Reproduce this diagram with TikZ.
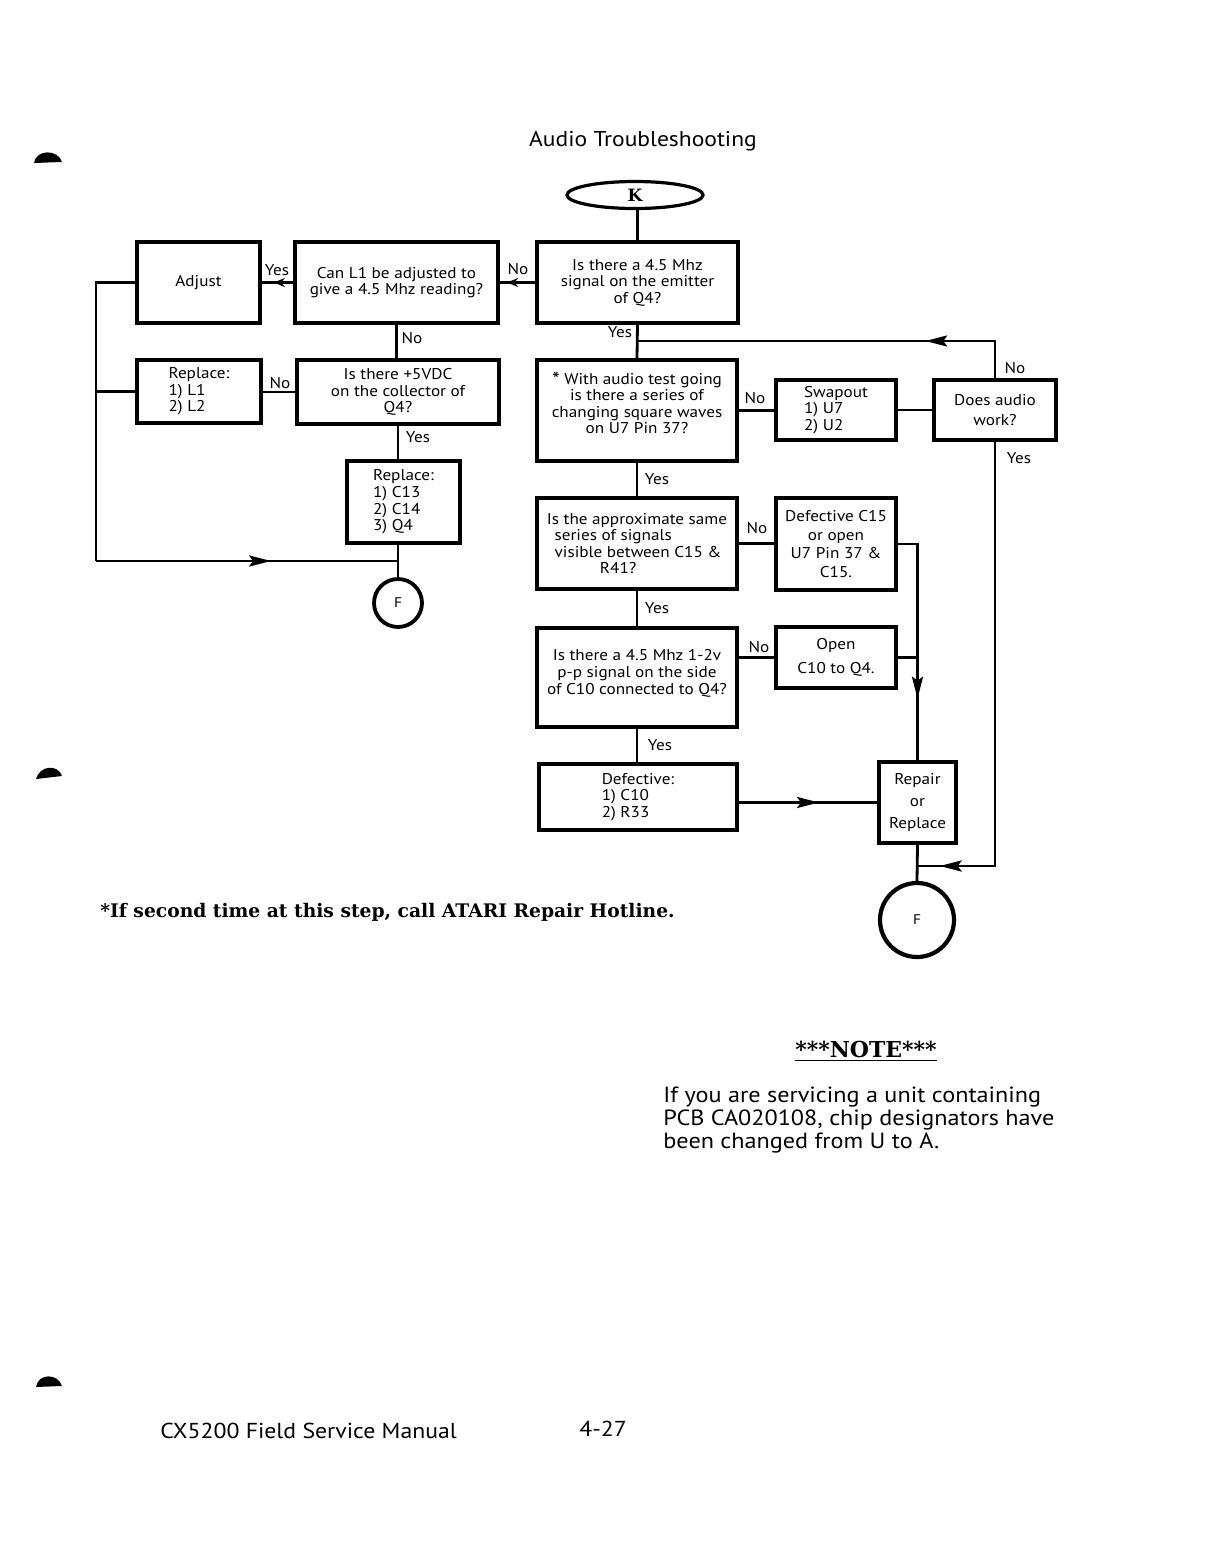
\documentclass[tikz,border=0pt]{standalone}
\usepackage{fontspec}
\setmainfont[FakeStretch=1.1]{PT Sans}
\newfontfamily\serifbold{DejaVu Serif}
\usetikzlibrary{arrows.meta,shapes.geometric,decorations.markings}
\newcommand\bxfont{\fontsize{7.8}{8.3}\selectfont}
\begin{document}
\begin{tikzpicture}[x=0.5pt,y=-0.5pt,
  box/.style={draw,line width=2.2pt,inner sep=1pt,align=center,font=\bxfont},
  lbl/.style={inner sep=0pt,font=\bxfont},
  conn/.style={line width=1.4pt},
  arrat/.style={postaction={decorate,decoration={markings,mark=at position #1 with {\arrow{Stealth[length=5.5pt,width=4.5pt]}}}}},
  barrat/.style={postaction={decorate,decoration={markings,mark=at position #1 with {\arrow{Stealth[length=11pt,width=5.5pt,inset=2pt]}}}}},
  term/.style={draw,circle,line width=1.9pt,inner sep=0pt,font=\fontsize{7}{8}\selectfont}
]
\useasboundingbox (0,0) rectangle (1221,1559);
\fill[white] (0,0) rectangle (1221,1559);

% margin marks
\fill (34,163) .. controls (36,149) and (58,149) .. (62,162) -- cycle;
\fill (36,779) .. controls (40,765) and (58,764) .. (62,776) -- cycle;
\fill (36,1387) .. controls (38,1373) and (58,1373) .. (62,1386) -- cycle;

% title
\node[anchor=base,font=\fontsize{10.7}{12}\selectfont,inner sep=0] (title) at (643,146) {Audio Troubleshooting};

% nodes
\node[draw,ellipse,line width=1.6pt,minimum width=68pt,minimum height=13.5pt,inner sep=0pt,font=\serifbold\bfseries\fontsize{8.5}{10}\selectfont] (K) at (635,195) {K};
\node[box,minimum width=100.5pt,minimum height=40.5pt] (E1) at (637.5,282.5) {Is there a 4.5 Mhz\\signal on the emitter\\of Q4?};
\node[box,minimum width=101.5pt,minimum height=40.5pt] (CanL) at (396.5,282.5) {Can L1 be adjusted to\\give a 4.5 Mhz reading?};
\node[box,minimum width=61.5pt,minimum height=40.5pt] (Adj) at (198.5,282.5) {Adjust};
\node[box,align=left,minimum width=62pt,minimum height=31.5pt] (RepL) at (199,391.5) {Replace:\\1) L1\\2) L2};
\node[box,minimum width=101pt,minimum height=32pt] (V5) at (398,392) {Is there +5VDC\\on the collector of\\Q4?};
\node[box,align=left,minimum width=56.5pt,minimum height=41pt] (RepC) at (403.5,502) {Replace:\\1) C13\\2) C14\\3) Q4};
\node[term,minimum size=24pt] (Fl) at (398,603) {F};

\node[box,minimum width=100pt,minimum height=50.5pt] (Aud) at (637,410.5) {\smash{\raisebox{-0.25ex}{\fontsize{10}{8}\selectfont *}} With audio test going\\is there a series of\\changing square waves\\on U7 Pin 37?\\[-1.3pt]};
\node[box,align=left,minimum width=60pt,minimum height=30pt] (Swap) at (836,410) {Swapout\\1) U7\\2) U2};
\node[box,minimum width=61pt,minimum height=30pt] (Does) at (995,410) {Does audio\\[2pt]work?};
\node[box,align=left,minimum width=100pt,minimum height=45.5pt] (Appr) at (637,543.5) {Is the approximate same\\\hspace*{0.5em}series of signals\\\hspace*{0.5em}visible between C15 \&\\\hspace*{3.4em}R41?};
\node[box,minimum width=60pt,minimum height=46pt] (DefA) at (836,544) {Defective C15\\[1pt]or open\\[1pt]U7 Pin 37 \&\\[1pt]C15.};
\node[box,minimum width=100pt,minimum height=49.5pt] (Sig) at (637,677.5) {Is there a 4.5 Mhz 1-2v\\p-p signal on the side\\of C10 connected to Q4?\\[-2.8pt]};
\node[box,minimum width=60pt,minimum height=30.5pt] (Open) at (836,657.5) {Open\\[4pt]C10 to Q4.};
\node[box,align=left,minimum width=99pt,minimum height=33pt] (DefB) at (638,797) {Defective:\\1) C10\\2) R33};
\node[box,minimum width=38.5pt,minimum height=40.5pt] (Rep) at (917.5,802.5) {Repair\\[2.5pt]or\\[2.5pt]Replace};
\node[term,line width=2.1pt,minimum size=37pt] (Fr) at (917,920) {F};

% junction coordinates
\coordinate (lt) at (96,282.5);
\coordinate (lb) at (96,561);
\coordinate (jL) at (398,561);
\coordinate (jA) at (637,341);
\coordinate (jF) at (917,866);

% connectors: left part
\draw[conn] (E1.north |- K.south) -- (E1.north);
\draw[conn,arrat=0.8] (E1.west) -- (CanL.east);
\draw[conn,arrat=0.62] (CanL.west) -- (Adj.east);
\draw[conn] (CanL.south) -- (CanL.south |- V5.north);
\draw[conn] (V5.west) -- (V5.west -| RepL.east);
\draw[conn] (V5.south) -- (V5.south |- RepC.north);
\draw[conn] (Fl.north |- RepC.south) -- (Fl.north);
\draw[conn] (Adj.west) -- (lt) -- (lb);
\draw[conn] (RepL.west) -- (RepL.west -| lt);
\draw[conn,barrat=0.58] (lb) -- (jL);

% connectors: right part
\draw[conn] (E1.south) -- (Aud.north);
\draw[conn,barrat=0.27] (Does.north) |- (jA);
\draw[conn] (Aud.east) -- (Aud.east -| Swap.west);
\draw[conn] (Swap.east) -- (Does.west);
\draw[conn,barrat=0.955] (Does.south) |- (jF);
\draw[conn] (Aud.south) -- (Appr.north);
\draw[conn] (Appr.east) -- (Appr.east -| DefA.west);
\draw[conn,barrat=0.74] (DefA.east) -| (Rep.north);
\draw[conn] (Appr.south) -- (Sig.north);
\draw[conn] (Sig.east |- Open.west) -- (Open.west);
\draw[conn] (Open.east) -- (Open.east -| Rep.north);
\draw[conn] (Sig.south) -- (Sig.south |- DefB.north);
\draw[conn,barrat=0.58] (DefB.east |- Rep.west) -- (Rep.west);
\draw[conn] (Rep.south) -- (Fr.north);

% labels
\node[lbl] (l1) at (277,270) {Yes};
\node[lbl] (l2) at (518,269) {No};
\node[lbl] (l3) at (412,338) {No};
\node[lbl] (l4) at (280,383) {No};
\node[lbl] (l5) at (418,437) {Yes};
\node[lbl] (l6) at (620,332) {Yes};
\node[lbl] (l7) at (755,398) {No};
\node[lbl] (l8) at (1015,368) {No};
\node[lbl] (l9) at (1019,458) {Yes};
\node[lbl] (l10) at (657,479) {Yes};
\node[lbl] (l11) at (757,528) {No};
\node[lbl] (l12) at (657,608) {Yes};
\node[lbl] (l13) at (759,647) {No};
\node[lbl] (l14) at (660,745) {Yes};

% texts
\node[anchor=base west,inner sep=0,font=\serifbold\bfseries\fontsize{9.35}{12}\selectfont] (foot) at (100,917) {*If second time at this step, call ATARI Repair Hotline.};
\node[anchor=base,inner sep=0,font=\serifbold\bfseries\fontsize{11}{12}\selectfont] (note) at (866,1057) {\underline{***NOTE***}};
\node[anchor=north west,align=left,inner sep=0,font=\fontsize{11}{11.3}\selectfont] (para) at (663,1087) {If you are servicing a unit containing\\PCB CA020108, chip designators have\\been changed from U to A.};
\node[anchor=base west,inner sep=0,font=\fontsize{10.8}{12}\selectfont] (man) at (160,1438) {CX5200 Field Service Manual};
\node[anchor=base west,inner sep=0,font=\fontsize{10.8}{12}\selectfont] (pg) at (579,1436) {4-27};
\end{tikzpicture}
\end{document}
